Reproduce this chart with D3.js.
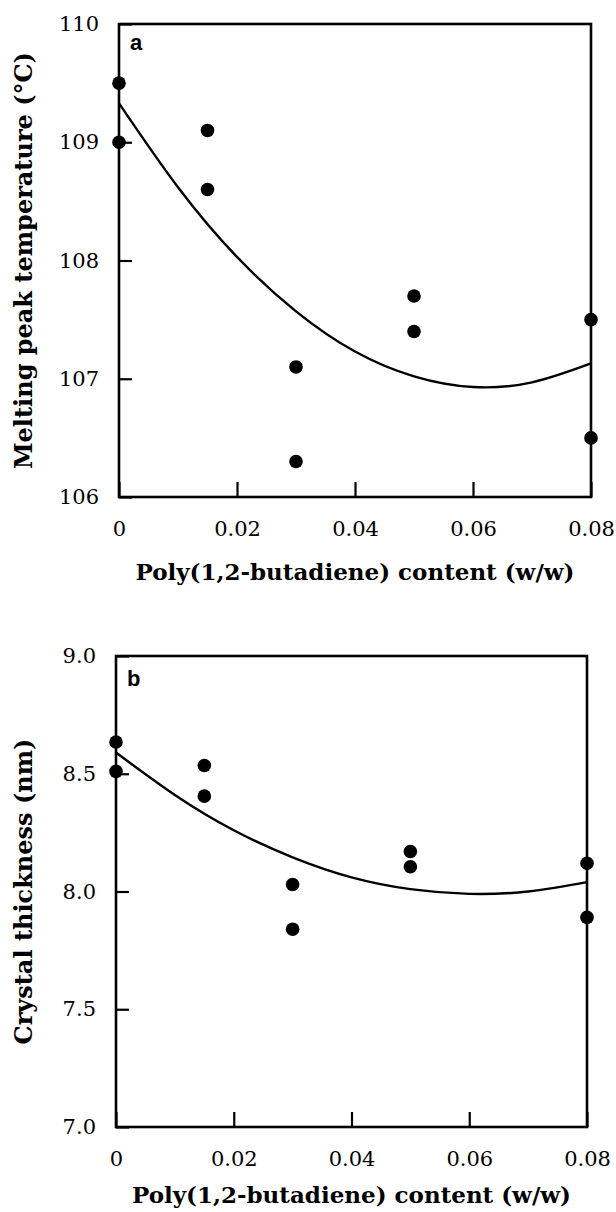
<!DOCTYPE html>
<html><head><meta charset="utf-8">
<script src="https://cdn.jsdelivr.net/npm/d3@7"></script>
<style>body{margin:0;background:#fff}</style>
</head><body>
<svg id="c" width="616" height="1212"></svg>
<script>
// ---- data ----
const contentX = [0, 0.015, 0.03, 0.05, 0.08];
const meltPeakUpper = [109.5, 109.1, 107.1, 107.7, 107.5];
const meltPeakLower = [109.0, 108.6, 106.3, 107.4, 106.5];
const thicknessUpper = [8.635, 8.535, 8.03, 8.17, 8.12];
const thicknessLower = [8.51, 8.405, 7.84, 8.105, 7.89];
const fitX = [0, 0.01, 0.02, 0.03, 0.04, 0.05, 0.06, 0.07, 0.08];
const fitMeltPeak = [109.33, 108.62, 108.03, 107.57, 107.23, 107.02, 106.93, 106.97, 107.13];
const fitThickness = [8.59, 8.41, 8.26, 8.145, 8.06, 8.01, 7.99, 8.00, 8.04];
const xTickValues = [0, 0.02, 0.04, 0.06, 0.08];
const yTicksA = [106, 107, 108, 109, 110];
const yTicksB = [7.0, 7.5, 8.0, 8.5, 9.0];
const xTitle = "Poly(1,2-butadiene) content (w/w)";
const yTitleA = "Melting peak temperature (\u00B0C)";
const yTitleB = "Crystal thickness (nm)";

const svg = d3.select('#c');
const serif = "'DejaVu Serif', 'Liberation Serif', serif";

function panel(cfg) {
  const x = d3.scaleLinear().domain([0, 0.08]).range([cfg.left, cfg.right]);
  const y = d3.scaleLinear().domain(cfg.yDomain).range([cfg.bottom, cfg.top]);
  const g = svg.append('g');

  // y axis
  const ya = g.append('g').attr('transform', `translate(${cfg.left},0)`)
    .call(d3.axisLeft(y).tickValues(cfg.yTicks).tickFormat(cfg.yFormat).tickSize(-13).tickPadding(20));
  ya.select('.domain').remove();
  ya.selectAll('line').attr('stroke', '#000').attr('stroke-width', 2.2);
  ya.selectAll('text').attr('font-family', serif).attr('font-size', 21).attr('fill', '#000');

  // x axis
  const xa = g.append('g').attr('transform', `translate(0,${cfg.bottom})`)
    .call(d3.axisBottom(x).tickValues(xTickValues)
      .tickFormat(d => d === 0 ? '0' : d3.format('.2f')(d)).tickSize(-15).tickPadding(24));
  xa.select('.domain').remove();
  xa.selectAll('line').attr('stroke', '#000').attr('stroke-width', 2.2);
  xa.selectAll('text').attr('font-family', serif).attr('font-size', 21).attr('fill', '#000');

  // frame
  g.append('rect').attr('x', cfg.left).attr('y', cfg.top)
    .attr('width', cfg.right - cfg.left).attr('height', cfg.bottom - cfg.top)
    .attr('fill', 'none').attr('stroke', '#000').attr('stroke-width', 2.6);

  // fit curve
  const line = d3.line().x((d, i) => x(fitX[i])).y(d => y(d)).curve(d3.curveNatural);
  g.append('path').datum(cfg.fit).attr('d', line)
    .attr('fill', 'none').attr('stroke', '#000').attr('stroke-width', 2.4);

  // points
  [cfg.s1, cfg.s2].forEach(s => {
    g.selectAll(null).data(s).enter().append('circle')
      .attr('cx', (d, i) => x(contentX[i])).attr('cy', d => y(d)).attr('r', 6.8).attr('fill', '#000');
  });

  // panel letter
  g.append('text').attr('x', cfg.left + 11).attr('y', cfg.top + cfg.letterDy)
    .attr('font-family', "'Liberation Sans', Arial, sans-serif").attr('font-weight', 'bold')
    .attr('font-size', 22).text(cfg.letter);

  // titles
  g.append('text').attr('x', (cfg.left + cfg.right) / 2).attr('y', cfg.xTitleY)
    .attr('text-anchor', 'middle').attr('font-family', serif).attr('font-weight', 'bold')
    .attr('font-size', 23).text(xTitle);
  g.append('text').attr('transform', `translate(${cfg.yTitleX},${(cfg.top + cfg.bottom) / 2}) rotate(-90)`)
    .attr('text-anchor', 'middle').attr('dy', '0.35em').attr('font-family', serif).attr('font-weight', 'bold')
    .attr('font-size', 24).text(cfg.yTitle);
}

panel({left: 119, right: 591, top: 24, bottom: 497, yDomain: [106, 110], yTicks: yTicksA,
  yFormat: d3.format('d'), s1: meltPeakUpper, s2: meltPeakLower, fit: fitMeltPeak,
  letter: 'a', letterDy: 26, xTitleY: 580, yTitleX: 24, yTitle: yTitleA});
panel({left: 116, right: 587, top: 656, bottom: 1127, yDomain: [7, 9], yTicks: yTicksB,
  yFormat: d3.format('.1f'), s1: thicknessUpper, s2: thicknessLower, fit: fitThickness,
  letter: 'b', letterDy: 30, xTitleY: 1203, yTitleX: 24, yTitle: yTitleB});
</script>
</body></html>
